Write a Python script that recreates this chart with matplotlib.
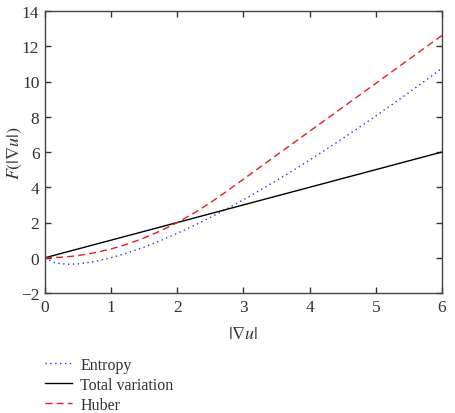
import matplotlib
matplotlib.use("Agg")
import matplotlib.pyplot as plt

x = [0, 0.125, 0.25, 0.375, 0.5, 0.75, 1, 1.25, 1.5, 1.75, 2, 2.25, 2.5, 2.75,
     3, 3.25, 3.5, 3.75, 4, 4.25, 4.5, 4.75, 5, 5.25, 5.5, 5.75, 6]
entropy = [0, -0.260, -0.347, -0.368, -0.347, -0.216, 0, 0.279, 0.608, 0.979,
           1.386, 1.825, 2.291, 2.782, 3.296, 3.831, 4.385, 4.957, 5.545, 6.149,
           6.768, 7.401, 8.047, 8.706, 9.376, 10.058, 10.751]
total_variation = [0, 0.125, 0.25, 0.375, 0.5, 0.75, 1, 1.25, 1.5, 1.75, 2, 2.25,
                   2.5, 2.75, 3, 3.25, 3.5, 3.75, 4, 4.25, 4.5, 4.75, 5, 5.25,
                   5.5, 5.75, 6]
huber = [0, 0.008, 0.031, 0.070, 0.125, 0.281, 0.5, 0.781, 1.125, 1.531, 2.0,
         2.531, 3.125, 3.780, 4.460, 5.139, 5.819, 6.499, 7.178, 7.858, 8.537,
         9.217, 9.897, 10.576, 11.256, 11.935, 12.615]

xticks = [0, 1, 2, 3, 4, 5, 6]
yticks = [-2, 0, 2, 4, 6, 8, 10, 12, 14]

plt.rcParams['font.family'] = ['Liberation Serif', 'DejaVu Serif']
plt.rcParams['mathtext.fontset'] = 'stix'

fig = plt.figure(figsize=(4.56, 4.14), dpi=100)
ax = fig.add_axes([45/456, 1-294/414, (442-45)/456, (294-12)/414])

l1, = ax.plot(x, entropy, color='#3030e0', linestyle=(0, (1, 2.5)), linewidth=1.0, label='Entropy')
l2, = ax.plot(x, total_variation, color='black', linestyle='-', linewidth=1.0, label='Total variation')
l3, = ax.plot(x, huber, color='#e02020', linestyle=(0, (5, 3)), linewidth=1.0, label='Huber')

ax.set_xlim(0, 6)
ax.set_ylim(-2, 14)
ax.set_xticks(xticks)
ax.set_yticks(yticks)
ax.set_yticklabels(['\u22122' if v == -2 else str(v) for v in yticks])
ax.tick_params(direction='in', length=4, width=1, top=True, right=True,
               labelsize=12.5, colors='#333333', labelcolor='#333333', pad=4)
for s in ax.spines.values():
    s.set_color('#444444')
    s.set_linewidth(1.0)

ax.set_xlabel(r'$|\nabla u|$', fontsize=13, color='#333333', labelpad=7)
ax.set_ylabel(r'$F(|\nabla u|)$', fontsize=13, color='#333333')
ax.yaxis.set_label_coords(-21/397, 0.5)

fig.legend(handles=[l1, l2, l3], loc='upper left',
           bbox_to_anchor=(45/456, 1-358/414), frameon=False,
           fontsize=11.5, handlelength=1.7, handletextpad=0.5,
           labelspacing=0.25, borderpad=0, borderaxespad=0,
           labelcolor='#333333')

fig.savefig('out.png', dpi=100)
